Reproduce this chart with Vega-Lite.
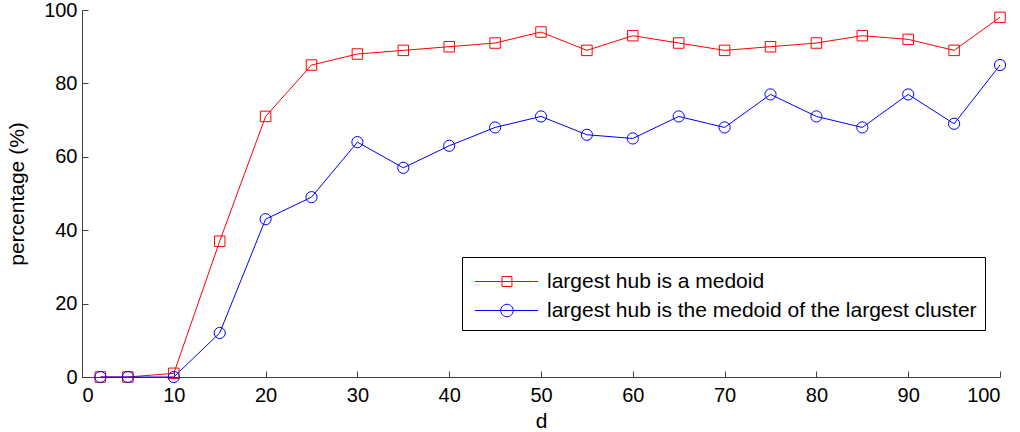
{
  "$schema": "https://vega.github.io/schema/vega-lite/v6.json",
  "width": 918,
  "height": 367,
  "autosize": {"type": "none"},
  "padding": {"left": 82, "top": 10, "right": 20, "bottom": 55},
  "background": "white",
  "data": {
    "values": [
      {"d": 2, "pct": 0, "series": "largest hub is a medoid"},
      {"d": 5, "pct": 0, "series": "largest hub is a medoid"},
      {"d": 10, "pct": 1, "series": "largest hub is a medoid"},
      {"d": 15, "pct": 37, "series": "largest hub is a medoid"},
      {"d": 20, "pct": 71, "series": "largest hub is a medoid"},
      {"d": 25, "pct": 85, "series": "largest hub is a medoid"},
      {"d": 30, "pct": 88, "series": "largest hub is a medoid"},
      {"d": 35, "pct": 89, "series": "largest hub is a medoid"},
      {"d": 40, "pct": 90, "series": "largest hub is a medoid"},
      {"d": 45, "pct": 91, "series": "largest hub is a medoid"},
      {"d": 50, "pct": 94, "series": "largest hub is a medoid"},
      {"d": 55, "pct": 89, "series": "largest hub is a medoid"},
      {"d": 60, "pct": 93, "series": "largest hub is a medoid"},
      {"d": 65, "pct": 91, "series": "largest hub is a medoid"},
      {"d": 70, "pct": 89, "series": "largest hub is a medoid"},
      {"d": 75, "pct": 90, "series": "largest hub is a medoid"},
      {"d": 80, "pct": 91, "series": "largest hub is a medoid"},
      {"d": 85, "pct": 93, "series": "largest hub is a medoid"},
      {"d": 90, "pct": 92, "series": "largest hub is a medoid"},
      {"d": 95, "pct": 89, "series": "largest hub is a medoid"},
      {"d": 100, "pct": 98, "series": "largest hub is a medoid"},
      {"d": 2, "pct": 0, "series": "largest hub is the medoid of the largest cluster"},
      {"d": 5, "pct": 0, "series": "largest hub is the medoid of the largest cluster"},
      {"d": 10, "pct": 0, "series": "largest hub is the medoid of the largest cluster"},
      {"d": 15, "pct": 12, "series": "largest hub is the medoid of the largest cluster"},
      {"d": 20, "pct": 43, "series": "largest hub is the medoid of the largest cluster"},
      {"d": 25, "pct": 49, "series": "largest hub is the medoid of the largest cluster"},
      {"d": 30, "pct": 64, "series": "largest hub is the medoid of the largest cluster"},
      {"d": 35, "pct": 57, "series": "largest hub is the medoid of the largest cluster"},
      {"d": 40, "pct": 63, "series": "largest hub is the medoid of the largest cluster"},
      {"d": 45, "pct": 68, "series": "largest hub is the medoid of the largest cluster"},
      {"d": 50, "pct": 71, "series": "largest hub is the medoid of the largest cluster"},
      {"d": 55, "pct": 66, "series": "largest hub is the medoid of the largest cluster"},
      {"d": 60, "pct": 65, "series": "largest hub is the medoid of the largest cluster"},
      {"d": 65, "pct": 71, "series": "largest hub is the medoid of the largest cluster"},
      {"d": 70, "pct": 68, "series": "largest hub is the medoid of the largest cluster"},
      {"d": 75, "pct": 77, "series": "largest hub is the medoid of the largest cluster"},
      {"d": 80, "pct": 71, "series": "largest hub is the medoid of the largest cluster"},
      {"d": 85, "pct": 68, "series": "largest hub is the medoid of the largest cluster"},
      {"d": 90, "pct": 77, "series": "largest hub is the medoid of the largest cluster"},
      {"d": 95, "pct": 69, "series": "largest hub is the medoid of the largest cluster"},
      {"d": 100, "pct": 85, "series": "largest hub is the medoid of the largest cluster"}
    ]
  },
  "encoding": {
    "x": {
      "field": "d", "type": "quantitative",
      "scale": {"domain": [0, 100], "nice": false, "zero": false},
      "axis": {"title": "d", "values": [0,10,20,30,40,50,60,70,80,90,100], "grid": false,
        "tickSize": -6, "labelPadding": 14, "titlePadding": 5}
    },
    "y": {
      "field": "pct", "type": "quantitative",
      "scale": {"domain": [0, 100], "nice": false},
      "axis": {"title": "percentage (%)", "values": [0,20,40,60,80,100], "grid": false,
        "tickSize": -6, "labelPadding": 11, "titlePadding": 16}
    }
  },
  "layer": [
    {
      "mark": {"type": "line", "strokeWidth": 1},
      "encoding": {
        "stroke": {"field": "series", "type": "nominal", "legend": null,
          "scale": {"range": ["#ff0000", "#0000ff"]}}
      }
    },
    {
      "transform": [{"filter": {"field": "series", "equal": "largest hub is a medoid"}}],
      "mark": {"type": "point", "shape": "square", "filled": false, "size": 110, "strokeWidth": 1, "opacity": 1},
      "encoding": {
        "stroke": {"field": "series", "type": "nominal", "legend": null}
      }
    },
    {
      "transform": [{"filter": {"field": "series", "equal": "largest hub is the medoid of the largest cluster"}}],
      "mark": {"type": "point", "shape": "circle", "filled": false, "size": 125, "strokeWidth": 1, "opacity": 1},
      "encoding": {
        "stroke": {"field": "series", "type": "nominal", "legend": null}
      }
    },
    {
      "mark": {"type": "point", "filled": false, "size": 0, "strokeWidth": 1},
      "encoding": {
        "color": {"field": "series", "type": "nominal",
          "scale": {"domain": ["largest hub is a medoid", "largest hub is the medoid of the largest cluster"], "range": ["#ff0000", "#0000ff"]},
          "legend": {"title": null, "orient": "none", "legendX": 380, "legendY": 247}},
        "shape": {"field": "series", "type": "nominal",
          "scale": {"domain": ["largest hub is a medoid", "largest hub is the medoid of the largest cluster"],
            "range": ["M1,-0.55M1,0.55M-0.72,0H3.22M0.97,-0.31H1.59V0.31H0.97Z", "M1,-0.55M1,0.55M-0.72,0H3.22M0.89,0A0.39,0.39,0,1,0,1.67,0A0.39,0.39,0,1,0,0.89,0Z"]},
          "legend": {"title": null, "orient": "none", "legendX": 380, "legendY": 247}}
      }
    }
  ],
  "config": {
    "view": {"stroke": null},
    "font": "Liberation Sans",
    "axis": {
      "domainColor": "#404040", "tickColor": "#404040", "domainWidth": 1, "tickWidth": 1,
      "labelFont": "Liberation Sans", "labelFontSize": 20, "labelColor": "black",
      "titleFont": "Liberation Sans", "titleFontSize": 21, "titleFontWeight": "normal", "titleColor": "black"
    },
    "legend": {
      "padding": 8, "strokeColor": "black", "strokeWidth": 1, "fillColor": "white",
      "symbolSize": 1024, "symbolStrokeWidth": 1, "symbolOpacity": 1,
      "labelFont": "Liberation Sans", "labelFontSize": 21, "labelColor": "black",
      "labelOffset": 44, "rowPadding": 1, "labelLimit": 0
    }
  }
}
